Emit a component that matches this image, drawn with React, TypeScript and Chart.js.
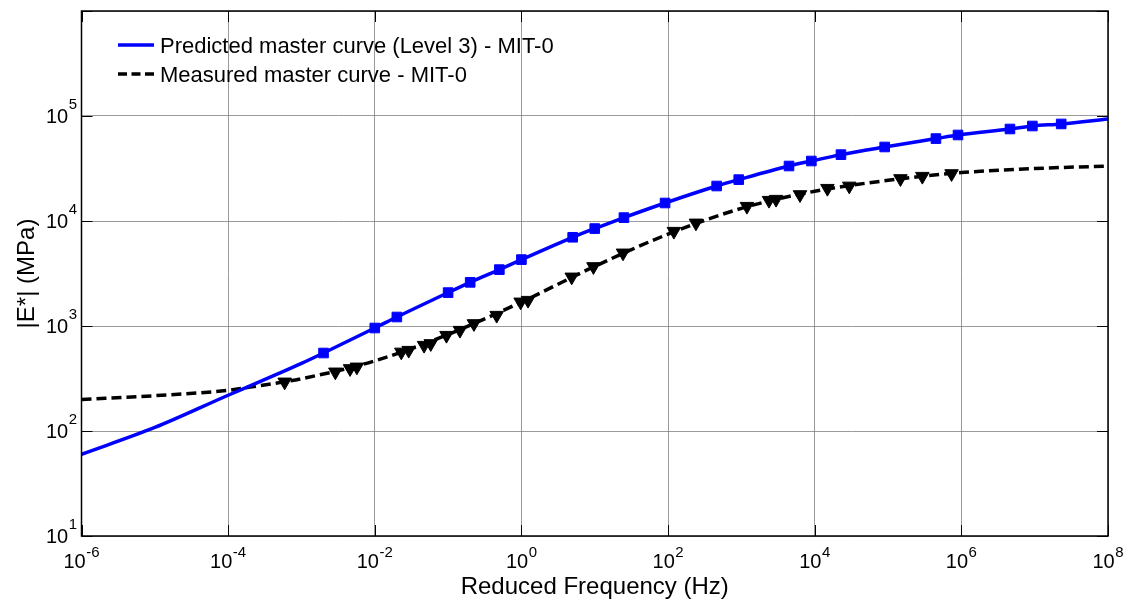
import React, { useEffect, useRef } from "react";
import { Chart, registerables } from "chart.js";

Chart.register(...registerables);

// ---------- data ----------
const predLineFreq = [1e-6, 1e-5, 1e-4, 5e-4, 1e-3, 0.002, 0.01, 0.02, 0.1, 0.2, 0.5, 1, 5, 10, 25, 91, 460, 920, 4460, 9000, 22800, 90000, 450000, 900000, 4.6e6, 9.3e6, 2.3e7, 1e8];
const predLineE = [60, 108, 219, 355, 440, 553, 957, 1218, 2080, 2606, 3443, 4289, 6998, 8470, 10770, 14840, 21540, 24770, 33400, 37260, 42850, 50700, 60950, 65960, 75200, 80300, 84000, 93500];

const predMarkFreq = [0.002, 0.01, 0.02, 0.1, 0.2, 0.5, 1, 5, 10, 25, 91, 460, 920, 4460, 9000, 22800, 90000, 450000, 900000, 4.6e6, 9.3e6, 2.3e7];
const predMarkE = [553, 957, 1218, 2080, 2606, 3443, 4289, 6998, 8470, 10770, 14840, 21540, 24770, 33400, 37260, 42850, 50700, 60950, 65960, 75200, 80300, 84000];

const measLineFreq = [1e-6, 1e-5, 1e-4, 2e-4, 1e-3, 1e-2, 0.1, 1, 10, 100, 1e3, 1e4, 1e5, 1e6, 1e7, 1e8];
const measLineE = [200, 217, 244, 262, 315, 465, 830, 1690, 3700, 7500, 13200, 19200, 24400, 28900, 31600, 33400];

const measMarkFreq = [5.9e-4, 2.9e-3, 4.6e-3, 5.7e-3, 0.023, 0.029, 0.047, 0.058, 0.095, 0.145, 0.225, 0.46, 0.975, 1.23, 4.85, 9.6, 24.3, 120, 240, 1190, 2380, 2970, 6300, 14900, 29600, 147600, 293600, 735000];
const measMarkE = [293, 365, 393, 407, 565, 587, 655, 680, 815, 910, 1054, 1265, 1693, 1757, 2930, 3680, 4960, 7980, 9570, 13800, 15740, 16100, 17830, 20470, 21530, 25340, 26650, 28260];

const xTickExps = [-6, -4, -2, 0, 2, 4, 6, 8];
const yTickExps = [1, 2, 3, 4, 5];
const yGridExps = [1, 2, 3, 4, 5, 6];
const xTitle = "Reduced Frequency (Hz)";
const yTitle = "|E*| (MPa)";
const legendLabels = ["Predicted master curve (Level 3) - MIT-0", "Measured master curve - MIT-0"];

const FONT = '"Liberation Sans", Arial, Helvetica, sans-serif';
const BLUE = "#0000ff";

function toXY(xs: number[], ys: number[]) {
  return xs.map((x, i) => ({ x, y: ys[i] }));
}

function drawPow(ctx: CanvasRenderingContext2D, exp: number, left: number, baseY: number, expY: number) {
  ctx.font = `20px ${FONT}`;
  ctx.textAlign = "left";
  ctx.textBaseline = "alphabetic";
  ctx.fillText("10", left, baseY);
  const wb = ctx.measureText("10").width;
  ctx.font = `15px ${FONT}`;
  ctx.fillText(String(exp), left + wb + 0.5, expY);
}

function powWidth(ctx: CanvasRenderingContext2D, exp: number) {
  ctx.font = `20px ${FONT}`;
  const wb = ctx.measureText("10").width;
  ctx.font = `15px ${FONT}`;
  const we = ctx.measureText(String(exp)).width;
  return wb + 0.5 + we;
}

const overlay = {
  id: "overlay",
  afterDraw(chart: any) {
    const { ctx, chartArea: a, scales } = chart;
    const xs = scales.x;
    const ys = scales.y;
    ctx.save();
    ctx.fillStyle = "#000";
    ctx.strokeStyle = "#000";

    // inner ticks
    ctx.lineWidth = 1;
    const tl = 11;
    ctx.beginPath();
    xTickExps.forEach((e) => {
      const px = Math.round(xs.getPixelForValue(Math.pow(10, e))) + 0.5;
      ctx.moveTo(px, a.bottom);
      ctx.lineTo(px, a.bottom - tl);
      ctx.moveTo(px, a.top);
      ctx.lineTo(px, a.top + tl);
    });
    yGridExps.forEach((e) => {
      const py = Math.round(ys.getPixelForValue(Math.pow(10, e))) + 0.5;
      ctx.moveTo(a.left, py);
      ctx.lineTo(a.left + tl, py);
      ctx.moveTo(a.right, py);
      ctx.lineTo(a.right - tl, py);
    });
    ctx.stroke();

    // frame
    ctx.lineWidth = 1.5;
    ctx.strokeRect(a.left, a.top, a.right - a.left, a.bottom - a.top);

    // x tick labels
    xTickExps.forEach((e) => {
      const px = xs.getPixelForValue(Math.pow(10, e));
      const w = powWidth(ctx, e);
      drawPow(ctx, e, px - w / 2, 568, 557);
    });
    // y tick labels
    yTickExps.forEach((e) => {
      const py = ys.getPixelForValue(Math.pow(10, e));
      const w = powWidth(ctx, e);
      drawPow(ctx, e, 77 - w, py + 7, py - 7);
    });

    // axis titles
    ctx.font = `24px ${FONT}`;
    ctx.textAlign = "center";
    ctx.textBaseline = "alphabetic";
    ctx.fillText(xTitle, (a.left + a.right) / 2, 594);
    ctx.save();
    ctx.translate(34, (a.top + a.bottom) / 2);
    ctx.rotate(-Math.PI / 2);
    ctx.fillText(yTitle, 0, 0);
    ctx.restore();

    // legend
    ctx.lineWidth = 3.5;
    ctx.strokeStyle = BLUE;
    ctx.setLineDash([]);
    ctx.beginPath();
    ctx.moveTo(118, 45);
    ctx.lineTo(154, 45);
    ctx.stroke();
    ctx.strokeStyle = "#000";
    ctx.setLineDash([9, 4.5]);
    ctx.beginPath();
    ctx.moveTo(118, 74);
    ctx.lineTo(154, 74);
    ctx.stroke();
    ctx.setLineDash([]);
    ctx.font = `22px ${FONT}`;
    ctx.textAlign = "left";
    ctx.fillStyle = "#000";
    ctx.fillText(legendLabels[0], 160, 53);
    ctx.fillText(legendLabels[1], 160, 82);

    ctx.restore();
  },
};

export default function App() {
  const ref = useRef<HTMLCanvasElement | null>(null);

  useEffect(() => {
    document.body.style.margin = "0";
    const canvas = ref.current;
    if (!canvas) return;
    const chart = new Chart(canvas, {
      type: "scatter",
      data: {
        datasets: [
          {
            label: "predMarkers",
            data: toXY(predMarkFreq, predMarkE),
            showLine: false,
            pointStyle: "rect",
            pointRadius: 6.8,
            pointBackgroundColor: BLUE,
            pointBorderColor: BLUE,
            pointBorderWidth: 1,
            order: 0,
          },
          {
            label: "measMarkers",
            data: toXY(measMarkFreq, measMarkE),
            showLine: false,
            pointStyle: "triangle",
            rotation: 180,
            pointRadius: 7.8,
            pointBackgroundColor: "#000",
            pointBorderColor: "#000",
            pointBorderWidth: 1,
            order: 0,
          },
          {
            label: legendLabels[0],
            data: toXY(predLineFreq, predLineE),
            showLine: true,
            borderColor: BLUE,
            borderWidth: 3.5,
            pointRadius: 0,
            cubicInterpolationMode: "monotone",
            order: 1,
          },
          {
            label: legendLabels[1],
            data: toXY(measLineFreq, measLineE),
            showLine: true,
            borderColor: "#000",
            borderWidth: 3.5,
            borderDash: [10, 5],
            pointRadius: 0,
            cubicInterpolationMode: "monotone",
            order: 1,
          },
        ],
      },
      options: {
        animation: false,
        responsive: false,
        devicePixelRatio: 1,
        layout: { padding: { top: 11, right: 18, left: 0, bottom: 0 } },
        plugins: {
          legend: { display: false },
          tooltip: { enabled: false },
        },
        scales: {
          x: {
            type: "logarithmic",
            min: 1e-6,
            max: 1e8,
            afterBuildTicks: (scale: any) => {
              scale.ticks = xTickExps.map((e) => ({ value: Math.pow(10, e), major: true }));
            },
            afterFit: (scale: any) => {
              scale.height = 69;
            },
            ticks: { display: false },
            grid: { display: true, color: "rgba(120,120,120,0.75)", lineWidth: 1, drawTicks: false },
            border: { display: false },
          },
          y: {
            type: "logarithmic",
            min: 10,
            max: 1e6,
            afterBuildTicks: (scale: any) => {
              scale.ticks = yGridExps.map((e) => ({ value: Math.pow(10, e), major: true }));
            },
            afterFit: (scale: any) => {
              scale.width = 81.5;
            },
            ticks: { display: false },
            grid: { display: true, color: "rgba(120,120,120,0.75)", lineWidth: 1, drawTicks: false },
            border: { display: false },
          },
        },
      },
      plugins: [overlay],
    } as any);
    return () => chart.destroy();
  }, []);

  return (
    <div style={{ width: 1126, height: 605, background: "#fff" }}>
      <canvas ref={ref} width={1126} height={605} style={{ display: "block" }} />
    </div>
  );
}
